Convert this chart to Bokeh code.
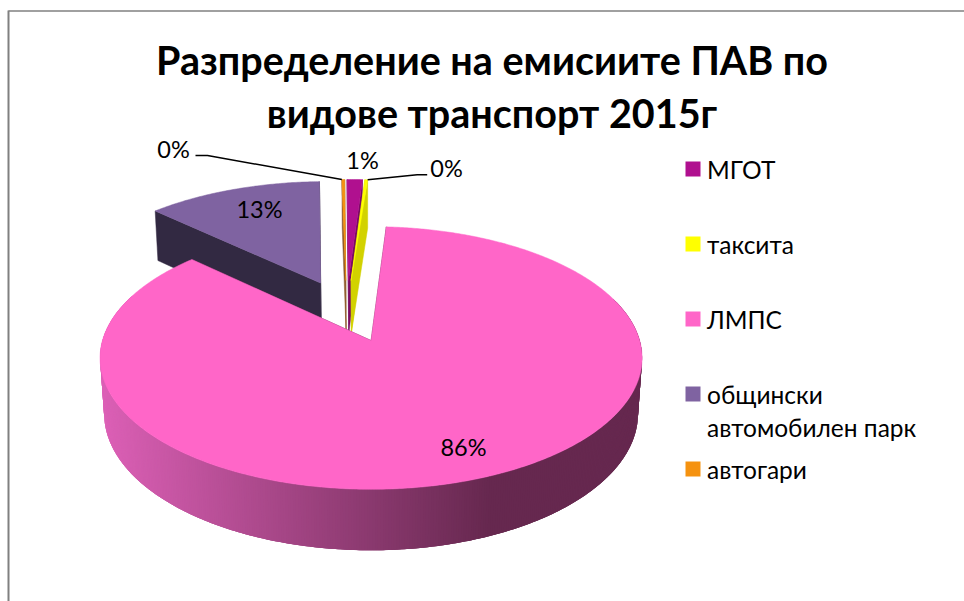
import math
from bokeh.plotting import figure
from bokeh.models import Range1d
from bokeh.core.properties import value
from bokeh.embed import file_html
from bokeh.resources import INLINE

# ---- data ----
title_lines = ["Разпределение на емисиите ПАВ по", "видове транспорт 2015г"]
categories = ["МГОТ", "таксита", "ЛМПС", "общински автомобилен парк", "автогари"]
legend_lines = [["МГОТ"], ["таксита"], ["ЛМПС"], ["общински", "автомобилен парк"], ["автогари"]]
values = [1.1, 0.2, 86.0, 12.5, 0.2]
labels = ["1%", "0%", "86%", "13%", "0%"]
top_colors = ["#B0108F", "#FFFF00", "#FF66C8", "#7F63A1", "#F59210"]
wall_colors = ["#7A0A63", "#D2D200", "#66284F", "#322942", "#8F5A2B"]

FONT = "Lato"
W, H = 964, 601

# ---- perspective model (screen pixels) ----
VX, VY = 370.5, 340.0
A, B, K = 268.6, 129.0, 0.133
T, M = 56.0, 0.015
BASE_U, BASE_V, EXPLODE = -0.094, 0.239, 0.257
START = -1.0


def project(u, v, bottom=False):
    if bottom:
        d = 1 + K * v + M
        return VX + A * u / d, VY - (B * v - T) / d
    d = 1 + K * v
    return VX + A * u / d, VY - B * v / d


def plane_rim(th, ou, ov):
    r = math.radians(th)
    return ou + math.sin(r), ov + math.cos(r)


def mix(c1, c2, t):
    a = [int(c1[i:i + 2], 16) for i in (1, 3, 5)]
    b = [int(c2[i:i + 2], 16) for i in (1, 3, 5)]
    return "#%02x%02x%02x" % tuple(round(a[i] + (b[i] - a[i]) * t) for i in range(3))


total = sum(values)
slices = []
acc = START
for i, val in enumerate(values):
    sweep = val / total * 360
    a0, a1 = acc, acc + sweep
    acc = a1
    mid = math.radians((a0 + a1) / 2)
    slices.append(dict(i=i, a0=a0, a1=a1,
                       ou=BASE_U + EXPLODE * math.sin(mid),
                       ov=BASE_V + EXPLODE * math.cos(mid)))

p = figure(width=W, height=H, output_backend="svg", toolbar_location=None,
           x_range=Range1d(0, W), y_range=Range1d(H, 0),
           min_border=0, outline_line_color=None, border_fill_color="white",
           background_fill_color="white")
p.axis.visible = False
p.grid.visible = False

# frame
p.line([8, W], [10.5, 10.5], line_color="#808080", line_width=1.3)
p.line([8, 8], [10, H], line_color="#808080", line_width=2)


def draw_slice(s):
    i = s["i"]
    ou, ov = s["ou"], s["ov"]
    steps = max(2, int((s["a1"] - s["a0"]) / 0.5))
    ths = [s["a0"] + (s["a1"] - s["a0"]) * k / steps for k in range(steps + 1)]
    # cut walls
    for th in (s["a0"], s["a1"]):
        u, v = plane_rim(th, ou, ov)
        xs, ys = zip(project(ou, ov), project(u, v), project(u, v, True), project(ou, ov, True))
        p.patch(list(xs), list(ys), fill_color=wall_colors[i], line_color=wall_colors[i], line_width=0.5)
    # rim wall, shaded along the screen x direction, each strip overlapping the next
    if s["a1"] - s["a0"] > 100:
        for k in range(steps - 2):
            t0, t1 = ths[k], ths[k + 3]
            if not (70 < t0 < 290):
                continue
            u0, v0 = plane_rim(t0, ou, ov)
            um, vm = plane_rim(ths[k + 1], ou, ov)
            u1, v1 = plane_rim(t1, ou, ov)
            q = [project(u0, v0), project(um, vm), project(u1, v1),
                 project(u1, v1, True), project(um, vm, True), project(u0, v0, True)]
            xm = (q[0][0] + q[1][0]) / 2
            col = mix("#DC60B6", wall_colors[i], min(1, max(0, (xm - 100) / 390)))
            p.patch([c[0] for c in q], [c[1] for c in q], fill_color=col, line_color=None)
    # top face
    pts = [project(ou, ov)] + [project(*plane_rim(th, ou, ov)) for th in ths]
    p.patch([c[0] for c in pts], [c[1] for c in pts], fill_color=top_colors[i],
            line_color=top_colors[i], line_width=0.5)


for idx in (3, 4, 0, 1, 2):
    draw_slice(slices[idx])

# leader lines
lead_r = project(*plane_rim(slices[1]["a1"], slices[1]["ou"], slices[1]["ov"]))
lead_l = project(*plane_rim(slices[4]["a0"], slices[4]["ou"], slices[4]["ov"]))
p.line([195, 207, lead_l[0]], [155, 155, lead_l[1]], line_color="black", line_width=1.5)
p.line([lead_r[0], 416.7, 426.7], [lead_r[1], 174.3, 174.3], line_color="black", line_width=1.5)

# data labels
label_pos = [(362, 159), (446, 167), (463, 446), (259, 208), (173, 148)]
for txt, (lx, ly) in zip(labels, label_pos):
    p.text([lx], [ly], text=[txt], text_font=value(FONT), text_font_size="23.5px", text_color="black",
           text_align="center", text_baseline="middle")

# title
for line, ty in zip(title_lines, (59, 112)):
    p.text([491.5], [ty], text=[line], text_font=value(FONT), text_font_style="bold",
           text_font_size="39.5px", text_color="black", text_align="center", text_baseline="middle")

# legend
for i, (lines, yc) in enumerate(zip(legend_lines, (168.5, 243.5, 318.5, 393.5, 468.5))):
    p.quad(left=[685], right=[700], top=[yc - 7.5], bottom=[yc + 7.5], fill_color=top_colors[i], line_color=None)
    for j, line in enumerate(lines):
        p.text([706.5], [yc + j * 33], text=[line], text_font=value(FONT), text_font_size="24.5px",
               text_color="black", text_align="left", text_baseline="middle")

open("out.html", "w").write(file_html(p, INLINE))
